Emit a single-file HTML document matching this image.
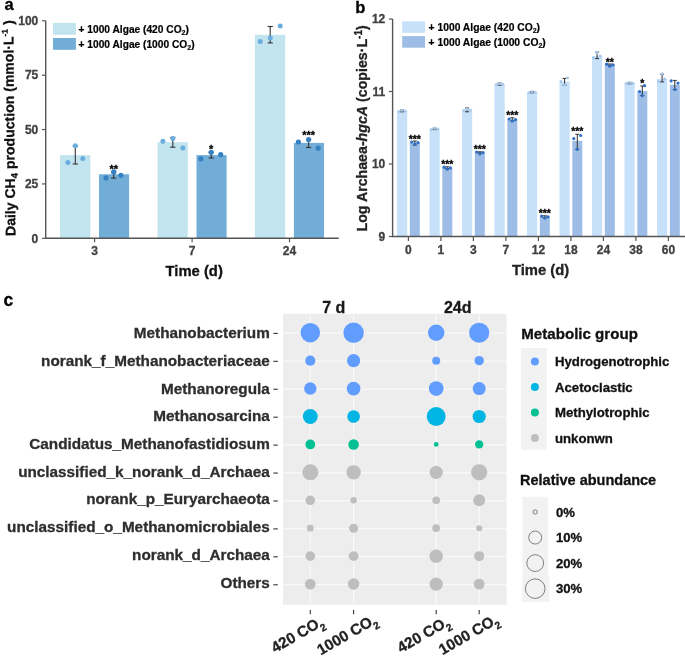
<!DOCTYPE html>
<html><head><meta charset="utf-8"><style>
html,body{margin:0;padding:0;background:#fff;}
body{width:685px;height:656px;overflow:hidden;}
svg{display:block;will-change:transform;font-family:"Liberation Sans", sans-serif;}
</style></head><body>
<svg width="685" height="656" viewBox="0 0 685 656" font-family='"Liberation Sans", sans-serif'>
<text x="4.50" y="10.20" font-size="16.5" fill="#000" stroke="#000" stroke-width="0.3" text-anchor="start" font-weight="bold" >a</text>
<rect x="60.00" y="155.10" width="30.30" height="83.20" fill="#c2e4ee"/>
<rect x="99.00" y="174.30" width="30.10" height="64.00" fill="#72add7"/>
<rect x="157.50" y="142.20" width="30.30" height="96.10" fill="#c2e4ee"/>
<rect x="196.50" y="155.10" width="30.10" height="83.20" fill="#72add7"/>
<rect x="254.90" y="34.80" width="30.30" height="203.50" fill="#c2e4ee"/>
<rect x="293.90" y="142.90" width="30.10" height="95.40" fill="#72add7"/>
<line x1="75.30" y1="146.00" x2="75.30" y2="164.00" stroke="#333" stroke-width="1.1"/>
<line x1="72.70" y1="146.00" x2="77.90" y2="146.00" stroke="#333" stroke-width="1.1"/>
<line x1="72.70" y1="164.00" x2="77.90" y2="164.00" stroke="#333" stroke-width="1.1"/>
<line x1="113.70" y1="172.00" x2="113.70" y2="178.10" stroke="#333" stroke-width="1.1"/>
<line x1="111.10" y1="172.00" x2="116.30" y2="172.00" stroke="#333" stroke-width="1.1"/>
<line x1="111.10" y1="178.10" x2="116.30" y2="178.10" stroke="#333" stroke-width="1.1"/>
<line x1="172.80" y1="137.40" x2="172.80" y2="147.20" stroke="#333" stroke-width="1.1"/>
<line x1="170.20" y1="137.40" x2="175.40" y2="137.40" stroke="#333" stroke-width="1.1"/>
<line x1="170.20" y1="147.20" x2="175.40" y2="147.20" stroke="#333" stroke-width="1.1"/>
<line x1="211.20" y1="152.30" x2="211.20" y2="158.00" stroke="#333" stroke-width="1.1"/>
<line x1="208.60" y1="152.30" x2="213.80" y2="152.30" stroke="#333" stroke-width="1.1"/>
<line x1="208.60" y1="158.00" x2="213.80" y2="158.00" stroke="#333" stroke-width="1.1"/>
<line x1="270.20" y1="26.50" x2="270.20" y2="42.90" stroke="#333" stroke-width="1.1"/>
<line x1="267.60" y1="26.50" x2="272.80" y2="26.50" stroke="#333" stroke-width="1.1"/>
<line x1="267.60" y1="42.90" x2="272.80" y2="42.90" stroke="#333" stroke-width="1.1"/>
<line x1="308.60" y1="139.80" x2="308.60" y2="147.50" stroke="#333" stroke-width="1.1"/>
<line x1="306.00" y1="139.80" x2="311.20" y2="139.80" stroke="#333" stroke-width="1.1"/>
<line x1="306.00" y1="147.50" x2="311.20" y2="147.50" stroke="#333" stroke-width="1.1"/>
<circle cx="67.90" cy="162.60" r="2.50" fill="#6aaee0"/>
<circle cx="75.30" cy="145.80" r="2.50" fill="#6aaee0"/>
<circle cx="82.80" cy="158.60" r="2.50" fill="#6aaee0"/>
<circle cx="162.90" cy="141.20" r="2.50" fill="#6aaee0"/>
<circle cx="172.80" cy="138.40" r="2.50" fill="#6aaee0"/>
<circle cx="182.90" cy="147.90" r="2.50" fill="#6aaee0"/>
<circle cx="260.30" cy="41.60" r="2.50" fill="#6aaee0"/>
<circle cx="270.30" cy="37.90" r="2.50" fill="#6aaee0"/>
<circle cx="280.20" cy="25.90" r="2.50" fill="#6aaee0"/>
<circle cx="106.00" cy="177.90" r="2.60" fill="#3581c1"/>
<circle cx="113.70" cy="171.90" r="2.60" fill="#3581c1"/>
<circle cx="120.90" cy="175.30" r="2.60" fill="#3581c1"/>
<circle cx="200.90" cy="158.80" r="2.60" fill="#3581c1"/>
<circle cx="211.20" cy="152.30" r="2.60" fill="#3581c1"/>
<circle cx="220.70" cy="154.70" r="2.60" fill="#3581c1"/>
<circle cx="298.40" cy="142.00" r="2.60" fill="#3581c1"/>
<circle cx="308.60" cy="139.60" r="2.60" fill="#3581c1"/>
<circle cx="318.20" cy="148.20" r="2.60" fill="#3581c1"/>
<text x="113.70" y="172.60" font-size="11" fill="#000" stroke="#000" stroke-width="0.3" text-anchor="middle" font-weight="bold" >**</text>
<text x="211.20" y="152.50" font-size="11" fill="#000" stroke="#000" stroke-width="0.3" text-anchor="middle" font-weight="bold" >*</text>
<text x="308.60" y="139.20" font-size="11" fill="#000" stroke="#000" stroke-width="0.3" text-anchor="middle" font-weight="bold" >***</text>
<line x1="45.70" y1="20.80" x2="45.70" y2="238.90" stroke="#555" stroke-width="1.4"/>
<line x1="45.00" y1="238.30" x2="338.80" y2="238.30" stroke="#555" stroke-width="1.4"/>
<line x1="42.00" y1="238.30" x2="45.70" y2="238.30" stroke="#555" stroke-width="1.2"/>
<text x="38.30" y="242.50" font-size="12" fill="#404040" stroke="#404040" stroke-width="0.3" text-anchor="end" font-weight="bold" >0</text>
<line x1="42.00" y1="183.93" x2="45.70" y2="183.93" stroke="#555" stroke-width="1.2"/>
<text x="38.30" y="188.12" font-size="12" fill="#404040" stroke="#404040" stroke-width="0.3" text-anchor="end" font-weight="bold" >25</text>
<line x1="42.00" y1="129.55" x2="45.70" y2="129.55" stroke="#555" stroke-width="1.2"/>
<text x="38.30" y="133.75" font-size="12" fill="#404040" stroke="#404040" stroke-width="0.3" text-anchor="end" font-weight="bold" >50</text>
<line x1="42.00" y1="75.18" x2="45.70" y2="75.18" stroke="#555" stroke-width="1.2"/>
<text x="38.30" y="79.38" font-size="12" fill="#404040" stroke="#404040" stroke-width="0.3" text-anchor="end" font-weight="bold" >75</text>
<line x1="42.00" y1="20.80" x2="45.70" y2="20.80" stroke="#555" stroke-width="1.2"/>
<text x="38.30" y="25.00" font-size="12" fill="#404040" stroke="#404040" stroke-width="0.3" text-anchor="end" font-weight="bold" >100</text>
<line x1="94.60" y1="238.30" x2="94.60" y2="242.30" stroke="#555" stroke-width="1.2"/>
<text x="94.60" y="254.80" font-size="12" fill="#404040" stroke="#404040" stroke-width="0.3" text-anchor="middle" font-weight="bold" >3</text>
<line x1="192.10" y1="238.30" x2="192.10" y2="242.30" stroke="#555" stroke-width="1.2"/>
<text x="192.10" y="254.80" font-size="12" fill="#404040" stroke="#404040" stroke-width="0.3" text-anchor="middle" font-weight="bold" >7</text>
<line x1="289.50" y1="238.30" x2="289.50" y2="242.30" stroke="#555" stroke-width="1.2"/>
<text x="289.50" y="254.80" font-size="12" fill="#404040" stroke="#404040" stroke-width="0.3" text-anchor="middle" font-weight="bold" >24</text>
<text x="194.20" y="276.40" font-size="14.8" fill="#111" stroke="#111" stroke-width="0.3" text-anchor="middle" font-weight="bold" >Time (d)</text>
<text transform="translate(15.4,236.0) rotate(-90.6)" font-size="14.05" font-weight="bold" fill="#111" stroke="#111" stroke-width="0.3" text-anchor="start">Daily CH<tspan font-size="9.5" dy="3">4</tspan><tspan dy="-3"> production (mmol·L</tspan><tspan font-size="8.5" dy="-5.5">-1</tspan><tspan dy="5.5" dx="4.2">)</tspan></text>
<rect x="53.00" y="22.90" width="22.90" height="11.90" fill="#c2e4ee"/>
<rect x="53.00" y="38.00" width="22.90" height="11.80" fill="#72add7"/>
<text x="78.6" y="33.2" font-size="10.2" font-weight="bold" stroke="#000" stroke-width="0.21">+ 1000 Algae (420 CO<tspan font-size="7" dy="2">2</tspan><tspan dy="-2">)</tspan></text>
<text x="78.6" y="47.7" font-size="10.2" font-weight="bold" stroke="#000" stroke-width="0.21">+ 1000 Algae (1000 CO<tspan font-size="7" dy="2">2</tspan><tspan dy="-2">)</tspan></text>
<text x="355.30" y="12.60" font-size="16.5" fill="#000" stroke="#000" stroke-width="0.3" text-anchor="start" font-weight="bold" >b</text>
<rect x="397.00" y="110.80" width="10.20" height="125.70" fill="#c7e1fb"/>
<rect x="409.80" y="142.50" width="10.00" height="94.00" fill="#9dbde6"/>
<rect x="429.50" y="128.90" width="10.20" height="107.60" fill="#c7e1fb"/>
<rect x="442.30" y="167.70" width="10.00" height="68.80" fill="#9dbde6"/>
<rect x="462.00" y="109.80" width="10.20" height="126.70" fill="#c7e1fb"/>
<rect x="474.80" y="152.50" width="10.00" height="84.00" fill="#9dbde6"/>
<rect x="494.50" y="84.00" width="10.20" height="152.50" fill="#c7e1fb"/>
<rect x="507.30" y="119.50" width="10.00" height="117.00" fill="#9dbde6"/>
<rect x="527.00" y="92.10" width="10.20" height="144.40" fill="#c7e1fb"/>
<rect x="539.80" y="216.60" width="10.00" height="19.90" fill="#9dbde6"/>
<rect x="559.50" y="81.40" width="10.20" height="155.10" fill="#c7e1fb"/>
<rect x="572.30" y="140.90" width="10.00" height="95.60" fill="#9dbde6"/>
<rect x="592.00" y="56.00" width="10.20" height="180.50" fill="#c7e1fb"/>
<rect x="604.80" y="64.70" width="10.00" height="171.80" fill="#9dbde6"/>
<rect x="624.50" y="83.00" width="10.20" height="153.50" fill="#c7e1fb"/>
<rect x="637.30" y="91.10" width="10.00" height="145.40" fill="#9dbde6"/>
<rect x="657.00" y="78.90" width="10.20" height="157.60" fill="#c7e1fb"/>
<rect x="669.80" y="84.70" width="10.00" height="151.80" fill="#9dbde6"/>
<line x1="402.10" y1="110.00" x2="402.10" y2="111.80" stroke="#333" stroke-width="1.0"/>
<line x1="400.10" y1="110.00" x2="404.10" y2="110.00" stroke="#333" stroke-width="1.0"/>
<line x1="400.10" y1="111.80" x2="404.10" y2="111.80" stroke="#333" stroke-width="1.0"/>
<line x1="414.80" y1="141.00" x2="414.80" y2="145.00" stroke="#333" stroke-width="1.0"/>
<line x1="412.80" y1="141.00" x2="416.80" y2="141.00" stroke="#333" stroke-width="1.0"/>
<line x1="412.80" y1="145.00" x2="416.80" y2="145.00" stroke="#333" stroke-width="1.0"/>
<line x1="434.60" y1="128.20" x2="434.60" y2="129.60" stroke="#333" stroke-width="1.0"/>
<line x1="432.60" y1="128.20" x2="436.60" y2="128.20" stroke="#333" stroke-width="1.0"/>
<line x1="432.60" y1="129.60" x2="436.60" y2="129.60" stroke="#333" stroke-width="1.0"/>
<line x1="447.30" y1="166.80" x2="447.30" y2="168.60" stroke="#333" stroke-width="1.0"/>
<line x1="445.30" y1="166.80" x2="449.30" y2="166.80" stroke="#333" stroke-width="1.0"/>
<line x1="445.30" y1="168.60" x2="449.30" y2="168.60" stroke="#333" stroke-width="1.0"/>
<line x1="467.10" y1="108.00" x2="467.10" y2="111.80" stroke="#333" stroke-width="1.0"/>
<line x1="465.10" y1="108.00" x2="469.10" y2="108.00" stroke="#333" stroke-width="1.0"/>
<line x1="465.10" y1="111.80" x2="469.10" y2="111.80" stroke="#333" stroke-width="1.0"/>
<line x1="479.80" y1="151.80" x2="479.80" y2="153.00" stroke="#333" stroke-width="1.0"/>
<line x1="477.80" y1="151.80" x2="481.80" y2="151.80" stroke="#333" stroke-width="1.0"/>
<line x1="477.80" y1="153.00" x2="481.80" y2="153.00" stroke="#333" stroke-width="1.0"/>
<line x1="499.60" y1="83.00" x2="499.60" y2="85.20" stroke="#333" stroke-width="1.0"/>
<line x1="497.60" y1="83.00" x2="501.60" y2="83.00" stroke="#333" stroke-width="1.0"/>
<line x1="497.60" y1="85.20" x2="501.60" y2="85.20" stroke="#333" stroke-width="1.0"/>
<line x1="512.30" y1="117.80" x2="512.30" y2="121.00" stroke="#333" stroke-width="1.0"/>
<line x1="510.30" y1="117.80" x2="514.30" y2="117.80" stroke="#333" stroke-width="1.0"/>
<line x1="510.30" y1="121.00" x2="514.30" y2="121.00" stroke="#333" stroke-width="1.0"/>
<line x1="532.10" y1="91.60" x2="532.10" y2="92.80" stroke="#333" stroke-width="1.0"/>
<line x1="530.10" y1="91.60" x2="534.10" y2="91.60" stroke="#333" stroke-width="1.0"/>
<line x1="530.10" y1="92.80" x2="534.10" y2="92.80" stroke="#333" stroke-width="1.0"/>
<line x1="544.80" y1="215.80" x2="544.80" y2="217.60" stroke="#333" stroke-width="1.0"/>
<line x1="542.80" y1="215.80" x2="546.80" y2="215.80" stroke="#333" stroke-width="1.0"/>
<line x1="542.80" y1="217.60" x2="546.80" y2="217.60" stroke="#333" stroke-width="1.0"/>
<line x1="564.60" y1="78.40" x2="564.60" y2="85.20" stroke="#333" stroke-width="1.0"/>
<line x1="562.60" y1="78.40" x2="566.60" y2="78.40" stroke="#333" stroke-width="1.0"/>
<line x1="562.60" y1="85.20" x2="566.60" y2="85.20" stroke="#333" stroke-width="1.0"/>
<line x1="577.30" y1="134.30" x2="577.30" y2="149.30" stroke="#333" stroke-width="1.0"/>
<line x1="575.30" y1="134.30" x2="579.30" y2="134.30" stroke="#333" stroke-width="1.0"/>
<line x1="575.30" y1="149.30" x2="579.30" y2="149.30" stroke="#333" stroke-width="1.0"/>
<line x1="597.10" y1="52.20" x2="597.10" y2="58.60" stroke="#333" stroke-width="1.0"/>
<line x1="595.10" y1="52.20" x2="599.10" y2="52.20" stroke="#333" stroke-width="1.0"/>
<line x1="595.10" y1="58.60" x2="599.10" y2="58.60" stroke="#333" stroke-width="1.0"/>
<line x1="609.80" y1="64.00" x2="609.80" y2="65.40" stroke="#333" stroke-width="1.0"/>
<line x1="607.80" y1="64.00" x2="611.80" y2="64.00" stroke="#333" stroke-width="1.0"/>
<line x1="607.80" y1="65.40" x2="611.80" y2="65.40" stroke="#333" stroke-width="1.0"/>
<line x1="629.60" y1="82.40" x2="629.60" y2="83.80" stroke="#333" stroke-width="1.0"/>
<line x1="627.60" y1="82.40" x2="631.60" y2="82.40" stroke="#333" stroke-width="1.0"/>
<line x1="627.60" y1="83.80" x2="631.60" y2="83.80" stroke="#333" stroke-width="1.0"/>
<line x1="642.30" y1="86.00" x2="642.30" y2="95.60" stroke="#333" stroke-width="1.0"/>
<line x1="640.30" y1="86.00" x2="644.30" y2="86.00" stroke="#333" stroke-width="1.0"/>
<line x1="640.30" y1="95.60" x2="644.30" y2="95.60" stroke="#333" stroke-width="1.0"/>
<line x1="662.10" y1="74.30" x2="662.10" y2="81.90" stroke="#333" stroke-width="1.0"/>
<line x1="660.10" y1="74.30" x2="664.10" y2="74.30" stroke="#333" stroke-width="1.0"/>
<line x1="660.10" y1="81.90" x2="664.10" y2="81.90" stroke="#333" stroke-width="1.0"/>
<line x1="674.80" y1="80.40" x2="674.80" y2="89.50" stroke="#333" stroke-width="1.0"/>
<line x1="672.80" y1="80.40" x2="676.80" y2="80.40" stroke="#333" stroke-width="1.0"/>
<line x1="672.80" y1="89.50" x2="676.80" y2="89.50" stroke="#333" stroke-width="1.0"/>
<circle cx="398.90" cy="111.40" r="1.50" fill="#a9c9ec"/>
<circle cx="402.10" cy="110.20" r="1.50" fill="#a9c9ec"/>
<circle cx="405.30" cy="111.00" r="1.50" fill="#a9c9ec"/>
<circle cx="411.60" cy="142.00" r="1.60" fill="#2f6fc6"/>
<circle cx="414.80" cy="144.00" r="1.60" fill="#2f6fc6"/>
<circle cx="418.00" cy="142.70" r="1.60" fill="#2f6fc6"/>
<circle cx="431.40" cy="129.50" r="1.50" fill="#a9c9ec"/>
<circle cx="434.60" cy="128.30" r="1.50" fill="#a9c9ec"/>
<circle cx="437.80" cy="129.10" r="1.50" fill="#a9c9ec"/>
<circle cx="444.10" cy="167.20" r="1.60" fill="#2f6fc6"/>
<circle cx="447.30" cy="169.20" r="1.60" fill="#2f6fc6"/>
<circle cx="450.50" cy="167.90" r="1.60" fill="#2f6fc6"/>
<circle cx="463.90" cy="110.40" r="1.50" fill="#a9c9ec"/>
<circle cx="467.10" cy="109.20" r="1.50" fill="#a9c9ec"/>
<circle cx="470.30" cy="110.00" r="1.50" fill="#a9c9ec"/>
<circle cx="476.60" cy="152.00" r="1.60" fill="#2f6fc6"/>
<circle cx="479.80" cy="154.00" r="1.60" fill="#2f6fc6"/>
<circle cx="483.00" cy="152.70" r="1.60" fill="#2f6fc6"/>
<circle cx="496.40" cy="84.60" r="1.50" fill="#a9c9ec"/>
<circle cx="499.60" cy="83.40" r="1.50" fill="#a9c9ec"/>
<circle cx="502.80" cy="84.20" r="1.50" fill="#a9c9ec"/>
<circle cx="509.10" cy="119.00" r="1.60" fill="#2f6fc6"/>
<circle cx="512.30" cy="121.00" r="1.60" fill="#2f6fc6"/>
<circle cx="515.50" cy="119.70" r="1.60" fill="#2f6fc6"/>
<circle cx="528.90" cy="92.70" r="1.50" fill="#a9c9ec"/>
<circle cx="532.10" cy="91.50" r="1.50" fill="#a9c9ec"/>
<circle cx="535.30" cy="92.30" r="1.50" fill="#a9c9ec"/>
<circle cx="541.60" cy="216.10" r="1.60" fill="#2f6fc6"/>
<circle cx="544.80" cy="218.10" r="1.60" fill="#2f6fc6"/>
<circle cx="548.00" cy="216.80" r="1.60" fill="#2f6fc6"/>
<circle cx="561.00" cy="81.40" r="1.50" fill="#a9c9ec"/>
<circle cx="567.60" cy="77.80" r="1.50" fill="#a9c9ec"/>
<circle cx="564.60" cy="85.00" r="1.50" fill="#a9c9ec"/>
<circle cx="573.80" cy="138.60" r="1.60" fill="#2f6fc6"/>
<circle cx="580.70" cy="135.50" r="1.60" fill="#2f6fc6"/>
<circle cx="577.20" cy="149.30" r="1.60" fill="#2f6fc6"/>
<circle cx="593.40" cy="58.00" r="1.50" fill="#a9c9ec"/>
<circle cx="596.90" cy="52.50" r="1.50" fill="#a9c9ec"/>
<circle cx="600.20" cy="56.00" r="1.50" fill="#a9c9ec"/>
<circle cx="606.60" cy="64.20" r="1.60" fill="#2f6fc6"/>
<circle cx="609.80" cy="66.20" r="1.60" fill="#2f6fc6"/>
<circle cx="613.00" cy="64.90" r="1.60" fill="#2f6fc6"/>
<circle cx="626.40" cy="83.60" r="1.50" fill="#a9c9ec"/>
<circle cx="629.60" cy="82.40" r="1.50" fill="#a9c9ec"/>
<circle cx="632.80" cy="83.20" r="1.50" fill="#a9c9ec"/>
<circle cx="639.60" cy="91.50" r="1.60" fill="#2f6fc6"/>
<circle cx="644.60" cy="85.70" r="1.60" fill="#2f6fc6"/>
<circle cx="642.20" cy="95.60" r="1.60" fill="#2f6fc6"/>
<circle cx="658.60" cy="81.50" r="1.50" fill="#a9c9ec"/>
<circle cx="662.00" cy="73.80" r="1.50" fill="#a9c9ec"/>
<circle cx="664.60" cy="78.90" r="1.50" fill="#a9c9ec"/>
<circle cx="671.10" cy="80.90" r="1.60" fill="#2f6fc6"/>
<circle cx="678.00" cy="83.10" r="1.60" fill="#2f6fc6"/>
<circle cx="675.00" cy="89.50" r="1.60" fill="#2f6fc6"/>
<text x="414.80" y="143.00" font-size="10.5" fill="#000" stroke="#000" stroke-width="0.3" text-anchor="middle" font-weight="bold" >***</text>
<text x="447.30" y="168.40" font-size="10.5" fill="#000" stroke="#000" stroke-width="0.3" text-anchor="middle" font-weight="bold" >***</text>
<text x="479.80" y="153.20" font-size="10.5" fill="#000" stroke="#000" stroke-width="0.3" text-anchor="middle" font-weight="bold" >***</text>
<text x="512.30" y="119.10" font-size="10.5" fill="#000" stroke="#000" stroke-width="0.3" text-anchor="middle" font-weight="bold" >***</text>
<text x="544.80" y="216.60" font-size="10.5" fill="#000" stroke="#000" stroke-width="0.3" text-anchor="middle" font-weight="bold" >***</text>
<text x="577.30" y="135.10" font-size="10.5" fill="#000" stroke="#000" stroke-width="0.3" text-anchor="middle" font-weight="bold" >***</text>
<text x="609.80" y="65.80" font-size="10.5" fill="#000" stroke="#000" stroke-width="0.3" text-anchor="middle" font-weight="bold" >**</text>
<text x="642.30" y="87.20" font-size="10.5" fill="#000" stroke="#000" stroke-width="0.3" text-anchor="middle" font-weight="bold" >*</text>
<line x1="392.60" y1="19.00" x2="392.60" y2="237.10" stroke="#555" stroke-width="1.4"/>
<line x1="391.90" y1="236.50" x2="685.00" y2="236.50" stroke="#555" stroke-width="1.4"/>
<line x1="388.90" y1="236.50" x2="392.60" y2="236.50" stroke="#555" stroke-width="1.2"/>
<text x="385.30" y="240.70" font-size="12" fill="#404040" stroke="#404040" stroke-width="0.3" text-anchor="end" font-weight="bold" >9</text>
<line x1="388.90" y1="164.00" x2="392.60" y2="164.00" stroke="#555" stroke-width="1.2"/>
<text x="385.30" y="168.20" font-size="12" fill="#404040" stroke="#404040" stroke-width="0.3" text-anchor="end" font-weight="bold" >10</text>
<line x1="388.90" y1="91.50" x2="392.60" y2="91.50" stroke="#555" stroke-width="1.2"/>
<text x="385.30" y="95.70" font-size="12" fill="#404040" stroke="#404040" stroke-width="0.3" text-anchor="end" font-weight="bold" >11</text>
<line x1="388.90" y1="19.00" x2="392.60" y2="19.00" stroke="#555" stroke-width="1.2"/>
<text x="385.30" y="23.20" font-size="12" fill="#404040" stroke="#404040" stroke-width="0.3" text-anchor="end" font-weight="bold" >12</text>
<line x1="408.40" y1="236.50" x2="408.40" y2="240.90" stroke="#555" stroke-width="1.2"/>
<text x="408.40" y="254.00" font-size="12" fill="#404040" stroke="#404040" stroke-width="0.3" text-anchor="middle" font-weight="bold" >0</text>
<line x1="440.90" y1="236.50" x2="440.90" y2="240.90" stroke="#555" stroke-width="1.2"/>
<text x="440.90" y="254.00" font-size="12" fill="#404040" stroke="#404040" stroke-width="0.3" text-anchor="middle" font-weight="bold" >1</text>
<line x1="473.40" y1="236.50" x2="473.40" y2="240.90" stroke="#555" stroke-width="1.2"/>
<text x="473.40" y="254.00" font-size="12" fill="#404040" stroke="#404040" stroke-width="0.3" text-anchor="middle" font-weight="bold" >3</text>
<line x1="505.90" y1="236.50" x2="505.90" y2="240.90" stroke="#555" stroke-width="1.2"/>
<text x="505.90" y="254.00" font-size="12" fill="#404040" stroke="#404040" stroke-width="0.3" text-anchor="middle" font-weight="bold" >7</text>
<line x1="538.40" y1="236.50" x2="538.40" y2="240.90" stroke="#555" stroke-width="1.2"/>
<text x="538.40" y="254.00" font-size="12" fill="#404040" stroke="#404040" stroke-width="0.3" text-anchor="middle" font-weight="bold" >12</text>
<line x1="570.90" y1="236.50" x2="570.90" y2="240.90" stroke="#555" stroke-width="1.2"/>
<text x="570.90" y="254.00" font-size="12" fill="#404040" stroke="#404040" stroke-width="0.3" text-anchor="middle" font-weight="bold" >18</text>
<line x1="603.40" y1="236.50" x2="603.40" y2="240.90" stroke="#555" stroke-width="1.2"/>
<text x="603.40" y="254.00" font-size="12" fill="#404040" stroke="#404040" stroke-width="0.3" text-anchor="middle" font-weight="bold" >24</text>
<line x1="635.90" y1="236.50" x2="635.90" y2="240.90" stroke="#555" stroke-width="1.2"/>
<text x="635.90" y="254.00" font-size="12" fill="#404040" stroke="#404040" stroke-width="0.3" text-anchor="middle" font-weight="bold" >38</text>
<line x1="668.40" y1="236.50" x2="668.40" y2="240.90" stroke="#555" stroke-width="1.2"/>
<text x="668.40" y="254.00" font-size="12" fill="#404040" stroke="#404040" stroke-width="0.3" text-anchor="middle" font-weight="bold" >60</text>
<text x="540.60" y="275.40" font-size="14.8" fill="#222" stroke="#222" stroke-width="0.3" text-anchor="middle" font-weight="bold" >Time (d)</text>
<text transform="translate(366.5,128.4) rotate(-90)" font-size="14.2" font-weight="bold" fill="#222" stroke="#222" stroke-width="0.3" text-anchor="middle">Log Archaea-<tspan font-style="italic">hgcA</tspan> (copies·L<tspan font-size="10" dy="-5">-1</tspan><tspan dy="5">)</tspan></text>
<rect x="402.20" y="21.30" width="22.80" height="11.50" fill="#c7e1fb"/>
<rect x="402.20" y="36.10" width="22.80" height="11.60" fill="#9dbde6"/>
<text x="428.6" y="31.2" font-size="10.3" font-weight="bold" stroke="#000" stroke-width="0.21">+ 1000 Algae (420 CO<tspan font-size="7" dy="2">2</tspan><tspan dy="-2">)</tspan></text>
<text x="428.6" y="46.0" font-size="10.3" font-weight="bold" stroke="#000" stroke-width="0.21">+ 1000 Algae (1000 CO<tspan font-size="7" dy="2">2</tspan><tspan dy="-2">)</tspan></text>
<text x="3.60" y="306.20" font-size="17.5" fill="#000" stroke="#000" stroke-width="0.3" text-anchor="start" font-weight="bold" >c</text>
<rect x="283.00" y="313.90" width="223.50" height="290.80" fill="#ededed"/>
<line x1="310.30" y1="313.90" x2="310.30" y2="604.70" stroke="#f9f9f9" stroke-width="1.2"/>
<line x1="353.60" y1="313.90" x2="353.60" y2="604.70" stroke="#f9f9f9" stroke-width="1.2"/>
<line x1="436.20" y1="313.90" x2="436.20" y2="604.70" stroke="#f9f9f9" stroke-width="1.2"/>
<line x1="479.20" y1="313.90" x2="479.20" y2="604.70" stroke="#f9f9f9" stroke-width="1.2"/>
<line x1="283.00" y1="333.20" x2="506.50" y2="333.20" stroke="#f9f9f9" stroke-width="1.2"/>
<line x1="283.00" y1="361.13" x2="506.50" y2="361.13" stroke="#f9f9f9" stroke-width="1.2"/>
<line x1="283.00" y1="389.06" x2="506.50" y2="389.06" stroke="#f9f9f9" stroke-width="1.2"/>
<line x1="283.00" y1="416.99" x2="506.50" y2="416.99" stroke="#f9f9f9" stroke-width="1.2"/>
<line x1="283.00" y1="444.92" x2="506.50" y2="444.92" stroke="#f9f9f9" stroke-width="1.2"/>
<line x1="283.00" y1="472.85" x2="506.50" y2="472.85" stroke="#f9f9f9" stroke-width="1.2"/>
<line x1="283.00" y1="500.78" x2="506.50" y2="500.78" stroke="#f9f9f9" stroke-width="1.2"/>
<line x1="283.00" y1="528.71" x2="506.50" y2="528.71" stroke="#f9f9f9" stroke-width="1.2"/>
<line x1="283.00" y1="556.64" x2="506.50" y2="556.64" stroke="#f9f9f9" stroke-width="1.2"/>
<line x1="283.00" y1="584.57" x2="506.50" y2="584.57" stroke="#f9f9f9" stroke-width="1.2"/>
<text x="269.80" y="338.10" font-size="15.3" fill="#2e2e2e" stroke="#2e2e2e" stroke-width="0.3" text-anchor="end" font-weight="bold" >Methanobacterium</text>
<line x1="273.40" y1="333.40" x2="277.80" y2="333.40" stroke="#333" stroke-width="1.1"/>
<circle cx="310.30" cy="332.70" r="9.75" fill="#619cff"/>
<circle cx="353.60" cy="332.70" r="10.20" fill="#619cff"/>
<circle cx="436.20" cy="332.70" r="8.20" fill="#619cff"/>
<circle cx="479.20" cy="332.70" r="10.05" fill="#619cff"/>
<text x="269.80" y="365.83" font-size="15.3" fill="#2e2e2e" stroke="#2e2e2e" stroke-width="0.3" text-anchor="end" font-weight="bold" >norank_f_Methanobacteriaceae</text>
<line x1="273.40" y1="361.33" x2="277.80" y2="361.33" stroke="#333" stroke-width="1.1"/>
<circle cx="310.30" cy="360.63" r="5.05" fill="#619cff"/>
<circle cx="353.60" cy="360.63" r="6.60" fill="#619cff"/>
<circle cx="436.20" cy="360.63" r="4.00" fill="#619cff"/>
<circle cx="479.20" cy="360.63" r="4.70" fill="#619cff"/>
<text x="269.80" y="393.56" font-size="15.3" fill="#2e2e2e" stroke="#2e2e2e" stroke-width="0.3" text-anchor="end" font-weight="bold" >Methanoregula</text>
<line x1="273.40" y1="389.26" x2="277.80" y2="389.26" stroke="#333" stroke-width="1.1"/>
<circle cx="310.30" cy="388.56" r="6.20" fill="#619cff"/>
<circle cx="353.60" cy="388.56" r="6.85" fill="#619cff"/>
<circle cx="436.20" cy="388.56" r="7.35" fill="#619cff"/>
<circle cx="479.20" cy="388.56" r="6.50" fill="#619cff"/>
<text x="269.80" y="421.29" font-size="15.3" fill="#2e2e2e" stroke="#2e2e2e" stroke-width="0.3" text-anchor="end" font-weight="bold" >Methanosarcina</text>
<line x1="273.40" y1="417.19" x2="277.80" y2="417.19" stroke="#333" stroke-width="1.1"/>
<circle cx="310.30" cy="416.49" r="7.40" fill="#00b5e3"/>
<circle cx="353.60" cy="416.49" r="6.30" fill="#00b5e3"/>
<circle cx="436.20" cy="416.49" r="9.40" fill="#00b5e3"/>
<circle cx="479.20" cy="416.49" r="6.60" fill="#00b5e3"/>
<text x="269.80" y="449.02" font-size="15.3" fill="#2e2e2e" stroke="#2e2e2e" stroke-width="0.3" text-anchor="end" font-weight="bold" >Candidatus_Methanofastidiosum</text>
<line x1="273.40" y1="445.12" x2="277.80" y2="445.12" stroke="#333" stroke-width="1.1"/>
<circle cx="310.30" cy="444.42" r="4.90" fill="#00c094"/>
<circle cx="353.60" cy="444.42" r="5.25" fill="#00c094"/>
<circle cx="436.20" cy="444.42" r="2.40" fill="#00c094"/>
<circle cx="479.20" cy="444.42" r="4.15" fill="#00c094"/>
<text x="269.80" y="476.75" font-size="15.3" fill="#2e2e2e" stroke="#2e2e2e" stroke-width="0.3" text-anchor="end" font-weight="bold" >unclassified_k_norank_d_Archaea</text>
<line x1="273.40" y1="473.05" x2="277.80" y2="473.05" stroke="#333" stroke-width="1.1"/>
<circle cx="310.30" cy="472.35" r="8.00" fill="#bebebe"/>
<circle cx="353.60" cy="472.35" r="7.20" fill="#bebebe"/>
<circle cx="436.20" cy="472.35" r="6.60" fill="#bebebe"/>
<circle cx="479.20" cy="472.35" r="8.10" fill="#bebebe"/>
<text x="269.80" y="504.48" font-size="15.3" fill="#2e2e2e" stroke="#2e2e2e" stroke-width="0.3" text-anchor="end" font-weight="bold" >norank_p_Euryarchaeota</text>
<line x1="273.40" y1="500.98" x2="277.80" y2="500.98" stroke="#333" stroke-width="1.1"/>
<circle cx="310.30" cy="500.28" r="4.80" fill="#bebebe"/>
<circle cx="353.60" cy="500.28" r="3.20" fill="#bebebe"/>
<circle cx="436.20" cy="500.28" r="3.85" fill="#bebebe"/>
<circle cx="479.20" cy="500.28" r="5.95" fill="#bebebe"/>
<text x="269.80" y="532.21" font-size="15.3" fill="#2e2e2e" stroke="#2e2e2e" stroke-width="0.3" text-anchor="end" font-weight="bold" >unclassified_o_Methanomicrobiales</text>
<line x1="273.40" y1="528.91" x2="277.80" y2="528.91" stroke="#333" stroke-width="1.1"/>
<circle cx="310.30" cy="528.21" r="3.40" fill="#bebebe"/>
<circle cx="353.60" cy="528.21" r="4.50" fill="#bebebe"/>
<circle cx="436.20" cy="528.21" r="3.85" fill="#bebebe"/>
<circle cx="479.20" cy="528.21" r="3.00" fill="#bebebe"/>
<text x="269.80" y="559.94" font-size="15.3" fill="#2e2e2e" stroke="#2e2e2e" stroke-width="0.3" text-anchor="end" font-weight="bold" >norank_d_Archaea</text>
<line x1="273.40" y1="556.84" x2="277.80" y2="556.84" stroke="#333" stroke-width="1.1"/>
<circle cx="310.30" cy="556.14" r="4.80" fill="#bebebe"/>
<circle cx="353.60" cy="556.14" r="4.90" fill="#bebebe"/>
<circle cx="436.20" cy="556.14" r="6.70" fill="#bebebe"/>
<circle cx="479.20" cy="556.14" r="5.00" fill="#bebebe"/>
<text x="269.80" y="587.67" font-size="15.3" fill="#2e2e2e" stroke="#2e2e2e" stroke-width="0.3" text-anchor="end" font-weight="bold" >Others</text>
<line x1="273.40" y1="584.77" x2="277.80" y2="584.77" stroke="#333" stroke-width="1.1"/>
<circle cx="310.30" cy="584.07" r="5.40" fill="#bebebe"/>
<circle cx="353.60" cy="584.07" r="5.70" fill="#bebebe"/>
<circle cx="436.20" cy="584.07" r="6.60" fill="#bebebe"/>
<circle cx="479.20" cy="584.07" r="5.40" fill="#bebebe"/>
<text x="333.80" y="312.80" font-size="16" fill="#1a1a1a" stroke="#1a1a1a" stroke-width="0.3" text-anchor="middle" font-weight="bold" >7 d</text>
<text x="457.70" y="312.80" font-size="16" fill="#1a1a1a" stroke="#1a1a1a" stroke-width="0.3" text-anchor="middle" font-weight="bold" >24d</text>
<line x1="310.30" y1="609.90" x2="310.30" y2="614.30" stroke="#333" stroke-width="1.1"/>
<line x1="353.60" y1="609.90" x2="353.60" y2="614.30" stroke="#333" stroke-width="1.1"/>
<line x1="436.20" y1="609.90" x2="436.20" y2="614.30" stroke="#333" stroke-width="1.1"/>
<line x1="479.20" y1="609.90" x2="479.20" y2="614.30" stroke="#333" stroke-width="1.1"/>
<text transform="translate(275.00,653.20) rotate(-30)" font-size="15.2" font-weight="bold" fill="#222" stroke="#222" stroke-width="0.3">420 CO<tspan font-size="10.3" dx="-0.6" dy="5.4">2</tspan></text>
<text transform="translate(320.80,655.50) rotate(-30)" font-size="15.2" font-weight="bold" fill="#222" stroke="#222" stroke-width="0.3">1000 CO<tspan font-size="10.3" dx="-0.6" dy="5.4">2</tspan></text>
<text transform="translate(401.00,653.20) rotate(-30)" font-size="15.2" font-weight="bold" fill="#222" stroke="#222" stroke-width="0.3">420 CO<tspan font-size="10.3" dx="-0.6" dy="5.4">2</tspan></text>
<text transform="translate(442.50,655.20) rotate(-30)" font-size="15.2" font-weight="bold" fill="#222" stroke="#222" stroke-width="0.3">1000 CO<tspan font-size="10.3" dx="-0.6" dy="5.4">2</tspan></text>
<text x="521.30" y="338.90" font-size="15.1" fill="#111" stroke="#111" stroke-width="0.3" text-anchor="start" font-weight="bold" >Metabolic group</text>
<rect x="521.00" y="348.00" width="25.80" height="101.80" fill="#f2f2f2"/>
<circle cx="534.90" cy="361.60" r="4.00" fill="#619cff"/>
<text x="555.00" y="366.20" font-size="13.2" fill="#111" stroke="#111" stroke-width="0.3" text-anchor="start" font-weight="bold" >Hydrogenotrophic</text>
<circle cx="534.90" cy="387.10" r="4.00" fill="#00b5e3"/>
<text x="555.00" y="391.70" font-size="13.2" fill="#111" stroke="#111" stroke-width="0.3" text-anchor="start" font-weight="bold" >Acetoclastic</text>
<circle cx="534.90" cy="412.60" r="4.00" fill="#00c094"/>
<text x="555.00" y="417.20" font-size="13.2" fill="#111" stroke="#111" stroke-width="0.3" text-anchor="start" font-weight="bold" >Methylotrophic</text>
<circle cx="534.90" cy="438.10" r="4.00" fill="#bebebe"/>
<text x="555.00" y="442.70" font-size="13.2" fill="#111" stroke="#111" stroke-width="0.3" text-anchor="start" font-weight="bold" >unkonwn</text>
<text x="520.00" y="485.00" font-size="14.5" fill="#111" stroke="#111" stroke-width="0.3" text-anchor="start" font-weight="bold" >Relative abundance</text>
<rect x="522.40" y="496.80" width="25.60" height="105.10" fill="#f2f2f2"/>
<rect x="547.90" y="576.00" width="1.50" height="25.90" fill="#f2f2f2"/>
<circle cx="535.20" cy="512.00" r="2.10" fill="none" stroke="#333" stroke-width="0.6"/>
<text x="556.00" y="516.80" font-size="13.1" fill="#111" stroke="#111" stroke-width="0.3" text-anchor="start" font-weight="bold" >0%</text>
<circle cx="535.20" cy="537.55" r="6.50" fill="none" stroke="#333" stroke-width="0.6"/>
<text x="556.00" y="542.35" font-size="13.1" fill="#111" stroke="#111" stroke-width="0.3" text-anchor="start" font-weight="bold" >10%</text>
<circle cx="535.20" cy="563.10" r="8.40" fill="none" stroke="#333" stroke-width="0.6"/>
<text x="556.00" y="567.90" font-size="13.1" fill="#111" stroke="#111" stroke-width="0.3" text-anchor="start" font-weight="bold" >20%</text>
<circle cx="535.20" cy="588.65" r="9.80" fill="none" stroke="#333" stroke-width="0.6"/>
<text x="556.00" y="593.45" font-size="13.1" fill="#111" stroke="#111" stroke-width="0.3" text-anchor="start" font-weight="bold" >30%</text>
</svg>
</body></html>
